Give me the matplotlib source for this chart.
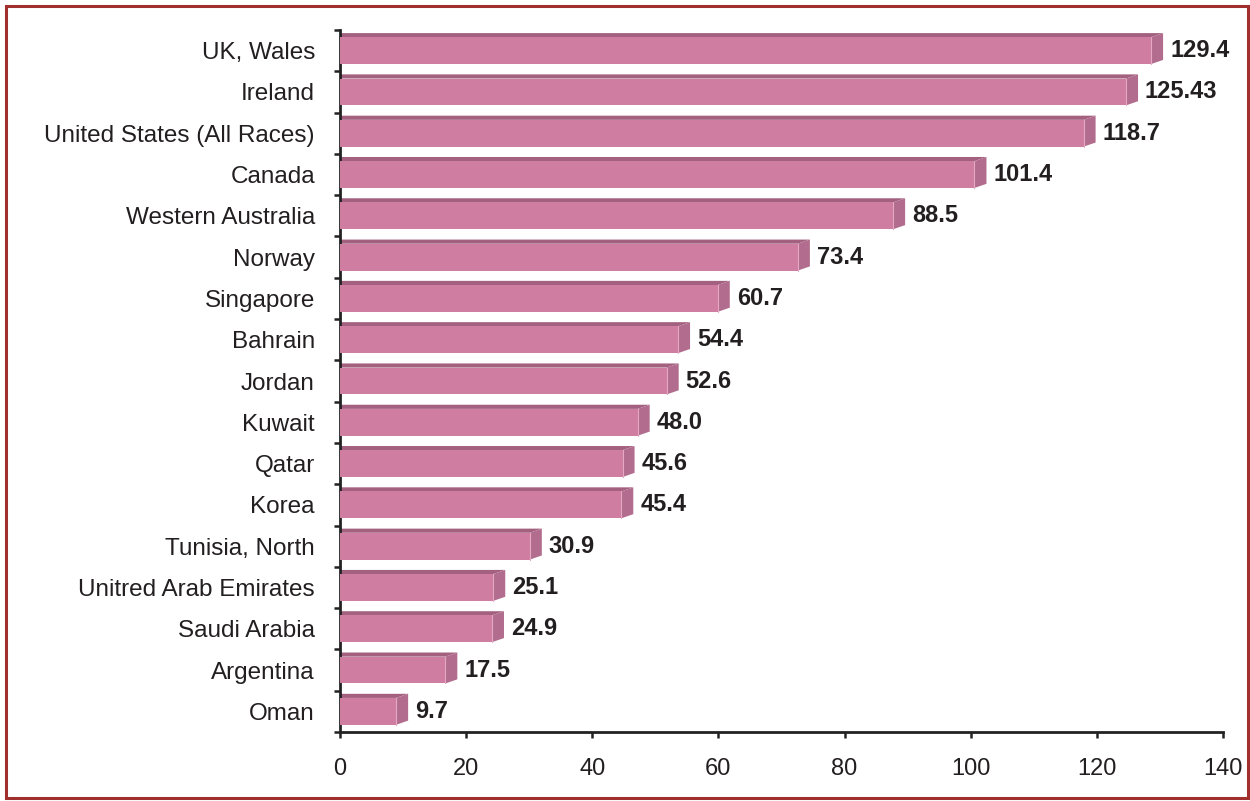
import matplotlib
matplotlib.use("Agg")
import matplotlib.pyplot as plt
from matplotlib.patches import Polygon, Rectangle

plt.rcParams['font.family'] = ['Liberation Sans', 'DejaVu Sans']

# data, top to bottom as in the chart
countries = ["UK, Wales", "Ireland", "United States (All Races)", "Canada",
             "Western Australia", "Norway", "Singapore", "Bahrain", "Jordan",
             "Kuwait", "Qatar", "Korea", "Tunisia, North",
             "Unitred Arab Emirates", "Saudi Arabia", "Argentina", "Oman"]
values = [129.4, 125.43, 118.7, 101.4, 88.5, 73.4, 60.7, 54.4, 52.6,
          48.0, 45.6, 45.4, 30.9, 25.1, 24.9, 17.5, 9.7]
labels = ["129.4", "125.43", "118.7", "101.4", "88.5", "73.4", "60.7", "54.4",
          "52.6", "48.0", "45.6", "45.4", "30.9", "25.1", "24.9", "17.5", "9.7"]
xticks = [0, 20, 40, 60, 80, 100, 120, 140]

front_c = "#CF7DA1"
top_c = "#A3607F"
side_c = "#B26D8E"
txt_c = "#231F20"

fig = plt.figure(figsize=(12.5, 8.01), dpi=100)
fig.patches.append(Rectangle((0.0045, 0.004), 0.9935, 0.9885, transform=fig.transFigure,
                             fill=False, edgecolor="#A0302E", linewidth=2.2))
ax = fig.add_axes([340 / 1250, 1 - 732 / 801, (1223 - 340) / 1250, (732 - 30) / 801])

n = len(countries)
h = 0.65     # bar thickness
dx = 1.9     # depth offset along x
dy = 0.1     # depth offset along y
for i, (v, lab) in enumerate(zip(values, labels)):
    c = n - 1 - i
    f = v - 0.8
    lo, hi = c - h / 2, c + h / 2
    ax.add_patch(Polygon([(0, hi), (f, hi), (f + dx, hi + dy), (0, hi + dy)],
                         closed=True, facecolor=top_c, edgecolor="none", zorder=2))
    ax.add_patch(Polygon([(f, lo), (f, hi), (f + dx, hi + dy), (f + dx, lo + dy)],
                         closed=True, facecolor=side_c, edgecolor="none", zorder=2))
    ax.add_patch(Rectangle((0, lo), f, h, facecolor=front_c, edgecolor="none", zorder=3))
    ax.plot([f, f], [lo, hi], color="#E6A9C4", lw=0.8, zorder=4)
    ax.text(v + 2.2, c + 0.0, lab, ha="left", va="center", fontsize=17,
            fontweight="bold", color=txt_c)

ax.set_xlim(0, 140)
ax.set_ylim(-0.5, n - 0.5)
ax.set_xticks(xticks)
ax.set_xticklabels([str(t) for t in xticks], fontsize=17, color=txt_c)
ax.set_yticks(range(n))
ax.set_yticklabels(countries[::-1], fontsize=17.5, color=txt_c)
ax.set_yticks([k - 0.5 for k in range(n + 1)], minor=True)
ax.tick_params(axis="y", which="major", length=0, pad=18)
ax.tick_params(axis="y", which="minor", length=4.5, width=1.8, color="#222222")
ax.tick_params(axis="x", length=4.5, width=1.8, color="#222222", pad=14)

for s in ["top", "right"]:
    ax.spines[s].set_visible(False)
for s in ["left", "bottom"]:
    ax.spines[s].set_linewidth(2)
    ax.spines[s].set_color("#222222")

fig.savefig("out.png", dpi=100)
